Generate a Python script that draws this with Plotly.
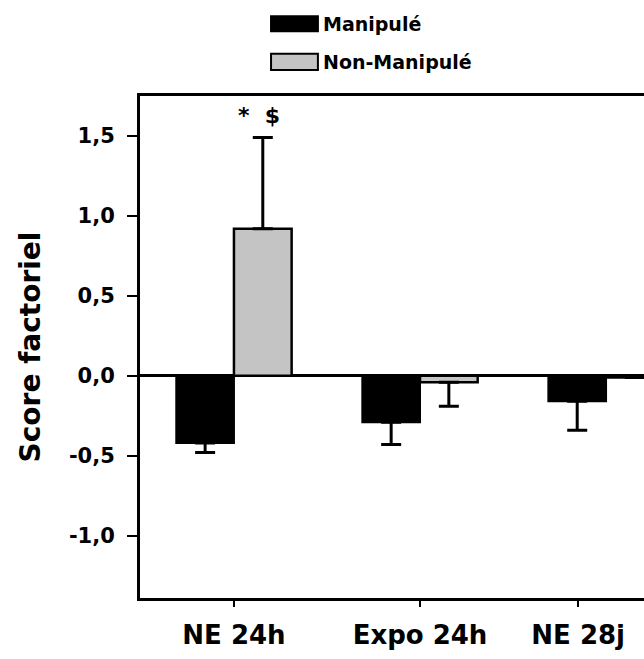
import plotly.graph_objects as go

categories = ["NE 24h", "Expo 24h", "NE 28j"]
group_x = [0, 1, 2]
tick_pos = [0, 1, 1.85]

series_names = ["Manipulé", "Non-Manipulé"]

manip_vals = [-0.42, -0.29, -0.16]
manip_err_minus = [0.06, 0.14, 0.18]

nonmanip_vals = [0.92, -0.04, -0.01]
nonmanip_err_plus = [0.57, 0.0, 0.0]
nonmanip_err_minus = [0.0, 0.15, 0.0]

zeros = [0, 0, 0]

y_tick_vals = [-1.0, -0.5, 0.0, 0.5, 1.0, 1.5]
y_tick_text = ["-1,0", "-0,5", "0,0", "0,5", "1,0", "1,5"]

FONT = "DejaVu Sans"
BLACK = "#000000"
GREY = "#c4c4c4"

fig = go.Figure()
fig.add_trace(go.Bar(
    x=group_x, y=manip_vals, name=series_names[0],
    marker=dict(color=BLACK, line=dict(color=BLACK, width=2)),
    error_y=dict(type="data", symmetric=False, array=zeros, arrayminus=manip_err_minus,
                 color=BLACK, thickness=3, width=10),
))
fig.add_trace(go.Bar(
    x=group_x, y=nonmanip_vals, name=series_names[1],
    marker=dict(color=GREY, line=dict(color=BLACK, width=2.5)),
    error_y=dict(type="data", symmetric=False, array=nonmanip_err_plus, arrayminus=nonmanip_err_minus,
                 color=BLACK, thickness=3, width=10),
))

# significance marker above the Non-Manipulé NE 24h bar
fig.add_annotation(x=0.155, y=nonmanip_vals[0] + nonmanip_err_plus[0], xref="x", yref="y",
                   text="*  $", showarrow=False, yshift=22, xshift=-4,
                   font=dict(family=FONT, size=22, weight="bold", color=BLACK))

# custom legend (wide swatches as in the original)
legend_items = [(series_names[0], BLACK, 1.129, 1.159, 1.143),
                (series_names[1], GREY, 1.052, 1.084, 1.068)]
for name, col, y0, y1, yt in legend_items:
    fig.add_shape(type="rect", xref="paper", yref="paper", x0=0.260, x1=0.353, y0=y0, y1=y1,
                  fillcolor=col, line=dict(color=BLACK, width=2))
    fig.add_annotation(xref="paper", yref="paper", x=0.359, y=yt, text=name, showarrow=False,
                       xanchor="left", yanchor="middle",
                       font=dict(family=FONT, size=19, weight="bold", color=BLACK))

fig.update_layout(
    width=644, height=659,
    margin=dict(l=140, r=0, t=96, b=61, autoexpand=False),
    paper_bgcolor="white", plot_bgcolor="white",
    barmode="group", bargap=0.38, bargroupgap=0,
    font=dict(family=FONT, color=BLACK),
    showlegend=False,
    xaxis=dict(range=[-0.505, 2.204], showline=True, linecolor=BLACK, linewidth=3, mirror=True,
               ticks="outside", ticklen=6, tickwidth=2, tickcolor=BLACK,
               tickvals=tick_pos, ticktext=categories, showgrid=False, zeroline=False,
               ticklabelstandoff=6,
               tickfont=dict(family=FONT, size=26, weight="bold", color=BLACK)),
    yaxis=dict(range=[-1.39, 1.75], showline=True, linecolor=BLACK, linewidth=3,
               ticks="outside", ticklen=10, tickwidth=2, tickcolor=BLACK,
               tickvals=y_tick_vals, ticktext=y_tick_text, ticklabelstandoff=8,
               showgrid=False, zeroline=True, zerolinecolor=BLACK, zerolinewidth=3,
               tickfont=dict(family=FONT, size=21, weight="bold", color=BLACK),
               title=dict(text="Score factoriel", standoff=21,
                          font=dict(family=FONT, size=28, weight="bold", color=BLACK))),
)

fig.write_html("out.html", config={"displayModeBar": False},
               post_script="document.body.style.margin='0';document.body.style.overflow='hidden';")
